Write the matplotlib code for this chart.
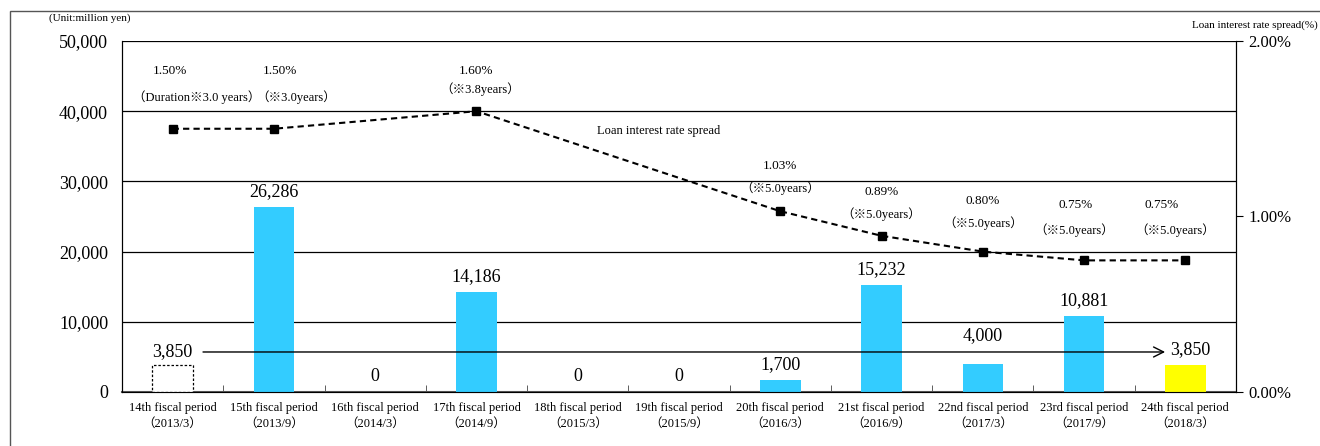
import numpy as np
import matplotlib
matplotlib.use("Agg")
import matplotlib.pyplot as plt
from matplotlib.patches import Rectangle

plt.rcParams['font.family'] = ['Liberation Serif', 'Noto Sans CJK JP', 'DejaVu Sans']

categories = ["14th fiscal period\n（2013/3）", "15th fiscal period\n（2013/9）",
              "16th fiscal period\n（2014/3）", "17th fiscal period\n（2014/9）",
              "18th fiscal period\n（2015/3）", "19th fiscal period\n（2015/9）",
              "20th fiscal period\n（2016/3）", "21st fiscal period\n（2016/9）",
              "22nd fiscal period\n（2017/3）", "23rd fiscal period\n（2017/9）",
              "24th fiscal period\n（2018/3）"]
amounts = [3850, 26286, 0, 14186, 0, 0, 1700, 15232, 4000, 10881, 3850]
spread = [1.50, 1.50, np.nan, 1.60, np.nan, np.nan, 1.03, 0.89, 0.80, 0.75, 0.75]
spread_labels = ["1.50%", "1.50%", "", "1.60%", "", "", "1.03%", "0.89%", "0.80%", "0.75%", "0.75%"]
duration_labels = ["（Duration※3.0 years）", "（※3.0years）", "", "（※3.8years）", "", "",
                   "（※5.0years）", "（※5.0years）", "（※5.0years）", "（※5.0years）", "（※5.0years）"]
left_ticks = [0, 10000, 20000, 30000, 40000, 50000]
right_ticks = [0.0, 1.0, 2.0]

W, H = 1320, 446
fig = plt.figure(figsize=(W / 100, H / 100), dpi=100)
ax = fig.add_axes([122 / W, 1 - 392 / H, (1236 - 122) / W, (392 - 41) / H])
ax2 = ax.twinx()

# outer frame
fig.patches.append(Rectangle((10 / W, -0.05), 1.1, 1 - 11 / H + 0.05, transform=fig.transFigure,
                             fill=False, edgecolor='#555555', linewidth=1.0))

x = np.arange(len(categories))
colors = ['white'] + ['#33CCFF'] * (len(categories) - 2) + ['#FFFF00']
bars = ax.bar(x, amounts, width=0.4, color=colors, zorder=3)
bars[0].set_edgecolor('black')
bars[0].set_linestyle((0, (2, 1.5)))
bars[0].set_linewidth(0.9)

ax.set_xlim(-0.5, len(categories) - 0.5)
ax.set_ylim(0, 50000)
ax.set_yticks(left_ticks)
ax.set_yticklabels([f"{v:,}" for v in left_ticks], fontsize=13)
ax.tick_params(axis='y', length=0, pad=10)
ax.grid(axis='y', color='black', linewidth=0.9, zorder=0)
ax.set_axisbelow(True)
ax.set_xticks(x)
ax.set_xticklabels(categories, fontsize=9, linespacing=1.45)
ax.tick_params(axis='x', length=0, pad=7)
ax.set_xticks(np.arange(-0.5, len(categories), 1.0), minor=True)
ax.tick_params(axis='x', which='minor', direction='in', length=5, color='#444444')
ax.spines['top'].set_visible(False)
ax.spines['bottom'].set_color('#555555')
ax.spines['bottom'].set_linewidth(1.5)

# bar value labels
for i, v in enumerate(amounts):
    if i == 0 or i == len(amounts) - 1:
        continue
    off = 5 if i != 8 else 14
    ax.annotate(f"{v:,}", (i, v), xytext=(0, off), textcoords='offset points',
                ha='center', va='bottom', fontsize=13)

# arrow with 3,850 labels
arrow_y = 5700
ax.annotate("", xy=(9.8, arrow_y), xytext=(0.3, arrow_y),
            arrowprops=dict(arrowstyle='->', color='black', lw=1.0,
                            mutation_scale=18, shrinkA=0, shrinkB=0), zorder=5)
ax.text(0, arrow_y, f"{amounts[0]:,}", ha='center', va='center', fontsize=13)
ax.text(10.05, arrow_y + 300, f"{amounts[-1]:,}", ha='center', va='center', fontsize=13)

# spread line
sp = np.array(spread)
m = ~np.isnan(sp)
ax2.plot(x[m], sp[m], linestyle=(0, (3, 2)), color='black', lw=1.5,
         marker='s', markersize=6, zorder=4)
ax2.set_ylim(0, 2.0)
ax2.set_yticks(right_ticks)
ax2.set_yticklabels([f"{v:.2f}%" for v in right_ticks], fontsize=12)
ax2.tick_params(axis='y', direction='out', length=5, pad=4)
ax2.spines['top'].set_visible(False)

# spread annotation placement (category index / right-axis units)
pct_pos = [(-0.03, 1.83), (1.06, 1.83), None, (3.0, 1.83), None, None,
           (6.0, 1.29), (7.0, 1.14), (8.0, 1.09), (8.92, 1.065), (9.77, 1.065)]
dur_pos = [(0.24, 1.68), (1.22, 1.68), None, (3.04, 1.725), None, None,
           (6.0, 1.16), (7.0, 1.014), (8.0, 0.963), (8.9, 0.923), (9.9, 0.923)]
for i in range(len(spread)):
    if not spread_labels[i]:
        continue
    ax2.text(*pct_pos[i], spread_labels[i], ha='center', va='center', fontsize=9.5)
    ax2.text(*dur_pos[i], duration_labels[i], ha='center', va='center', fontsize=9)

ax2.text(4.8, 1.49, "Loan interest rate spread", ha='center', va='center', fontsize=9)

fig.text(90 / W, 1 - 18 / H, "(Unit:million yen)", ha='center', va='center', fontsize=8)
fig.text(1318 / W, 1 - 25 / H, "Loan interest rate spread(%)", ha='right', va='center', fontsize=8)

fig.savefig("out.png", dpi=100)
